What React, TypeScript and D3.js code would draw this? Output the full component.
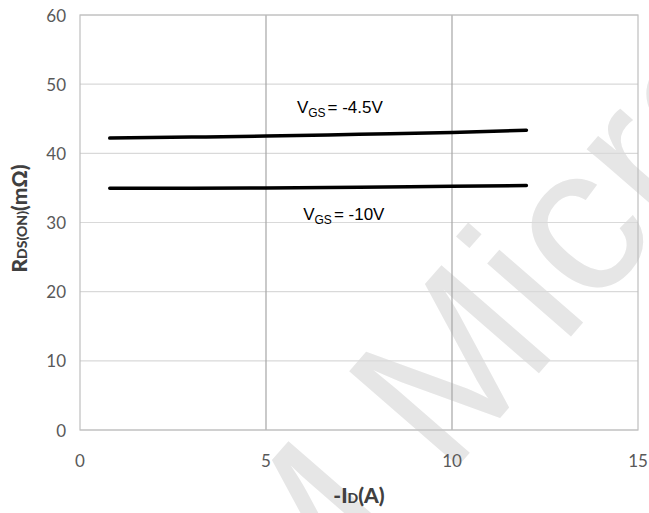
import * as d3 from 'd3';

// -ID (A) sample points and RDS(ON) (mΩ)
const currents = [0.8, 3, 5, 7.5, 10, 12];
const rdsVgs45 = [42.2, 42.35, 42.5, 42.75, 43.0, 43.35];
const rdsVgs10 = [34.95, 34.95, 35.0, 35.1, 35.25, 35.35];

const xTicks = [0, 5, 10, 15];
const yTicks = [0, 10, 20, 30, 40, 50, 60];

const curveLabels = [
  { sub: 'GS', text: '= -4.5V', x: 5.83, y: 45.8 },
  { sub: 'GS', text: '= -10V', x: 6.0, y: 30.4 },
];

const width = 649;
const height = 513;
const margin = { top: 15, right: 11, bottom: 83, left: 80 };

export default function App() {
  const x = d3
    .scaleLinear()
    .domain([0, 15])
    .range([margin.left, width - margin.right]);
  const y = d3
    .scaleLinear()
    .domain([0, 60])
    .range([height - margin.bottom, margin.top]);

  const line = d3
    .line<number>()
    .x((_, i) => x(currents[i]))
    .y((d) => y(d))
    .curve(d3.curveMonotoneX);

  const tickFont = 'Lato, "Open Sans", sans-serif';

  return (
    <svg
      width={width}
      height={height}
      style={{ position: 'absolute', left: 0, top: 0, background: '#fff' }}
    >
      {/* watermark */}
      <text
        transform="translate(294, 655) rotate(-49)"
        fill="#e6e6e6"
        style={{ fontFamily: 'Arial, "Liberation Sans", sans-serif', fontSize: '210px' }}
      >
        M Micro
      </text>

      {/* horizontal grid */}
      {yTicks.map((t) => (
        <line
          key={'h' + t}
          x1={x(0)}
          x2={x(15)}
          y1={y(t)}
          y2={y(t)}
          stroke="#d9d9d9"
          strokeWidth={1.2}
        />
      ))}
      {/* vertical grid */}
      {xTicks.slice(1, -1).map((t) => (
        <line
          key={'v' + t}
          x1={x(t)}
          x2={x(t)}
          y1={y(0)}
          y2={y(60)}
          stroke="#a6a6a6"
          strokeWidth={1.2}
        />
      ))}
      <rect
        x={x(0)}
        y={y(60)}
        width={x(15) - x(0)}
        height={y(0) - y(60)}
        fill="none"
        stroke="#bfbfbf"
        strokeWidth={1.2}
      />

      {/* curves */}
      <path d={line(rdsVgs45) ?? ''} fill="none" stroke="#000" strokeWidth={3.5} strokeLinecap="round" />
      <path d={line(rdsVgs10) ?? ''} fill="none" stroke="#000" strokeWidth={3.5} strokeLinecap="round" />

      {curveLabels.map((l, i) => (
        <text
          key={i}
          x={x(l.x)}
          y={y(l.y)}
          fill="#000"
          style={{ fontFamily: 'Arial, "Liberation Sans", sans-serif', fontSize: '17px' }}
        >
          V
          <tspan dy={4} style={{ fontSize: '12px' }}>
            {l.sub}
          </tspan>
          <tspan dy={-4} dx={2}>
            {l.text}
          </tspan>
        </text>
      ))}

      {/* tick labels */}
      {yTicks.map((t) => (
        <text
          key={'yl' + t}
          x={margin.left - 14}
          y={y(t)}
          textAnchor="end"
          dominantBaseline="central"
          fill="#595959"
          style={{ fontFamily: tickFont, fontSize: '17px' }}
        >
          {t}
        </text>
      ))}
      {xTicks.map((t) => (
        <text
          key={'xl' + t}
          x={x(t)}
          y={y(0) + 30}
          textAnchor="middle"
          dominantBaseline="central"
          fill="#595959"
          style={{ fontFamily: tickFont, fontSize: '17px' }}
        >
          {t}
        </text>
      ))}

      {/* axis titles */}
      <text
        x={(x(0) + x(15)) / 2}
        y={503}
        textAnchor="middle"
        fill="#404040"
        style={{ fontFamily: tickFont, fontSize: '21px', fontWeight: 900 }}
      >
        -I
        <tspan style={{ fontSize: '14px' }}>D</tspan>
        (A)
      </text>
      <text
        transform={`translate(27, ${(y(0) + y(60)) / 2 - 4}) rotate(-90)`}
        textAnchor="middle"
        fill="#404040"
        style={{ fontFamily: tickFont, fontSize: '21px', fontWeight: 900 }}
      >
        R
        <tspan style={{ fontSize: '14px' }}>DS(ON)</tspan>
        (mΩ)
      </text>
    </svg>
  );
}
